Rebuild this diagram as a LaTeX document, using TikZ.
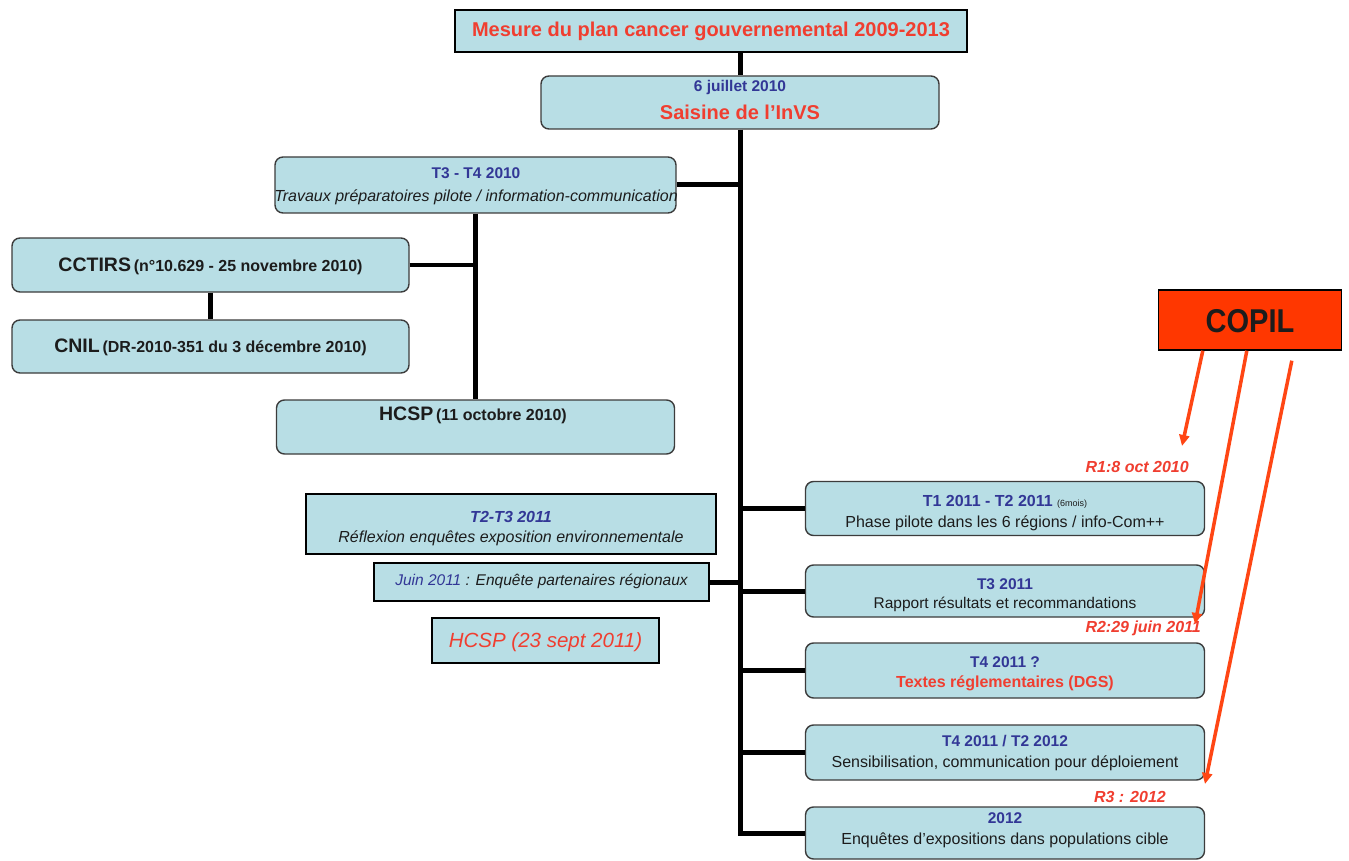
\documentclass[tikz,border=0pt]{standalone}
\usepackage{fontspec}
\setmainfont{Liberation Sans}
\newfontfamily\narrowf{Liberation Sans}[FakeStretch=0.88]
\usetikzlibrary{arrows.meta,calc}
\definecolor{boxfill}{RGB}{184,222,229}
\definecolor{boxline}{RGB}{60,60,60}
\definecolor{navyt}{RGB}{50,55,150}
\definecolor{redt}{RGB}{240,62,48}
\definecolor{darkt}{RGB}{28,28,28}
\definecolor{copilred}{RGB}{255,55,0}
\definecolor{arrred}{RGB}{255,70,20}
\newcommand\fsz[1]{\fontsize{#1}{#1}\selectfont}
\begin{document}
\begin{tikzpicture}[x=1pt,y=-1pt,
  rbox/.style={draw=boxline,line width=1.4pt,fill=boxfill,rounded corners=8pt,inner sep=0pt},
  sbox/.style={draw=black,line width=1.4pt,fill=boxfill,inner sep=0pt},
  txt/.style={inner sep=0pt,anchor=center},
  conn/.style={line width=5pt,line join=miter},
  sconn/.style={line width=4.5pt},
  copilarrow/.style={draw=arrred,line width=3.5pt,-{Triangle[length=11pt,width=10pt]}},
  rlabel/.style={text=redt,font=\bfseries\itshape\fsz{16},inner sep=0pt,anchor=east}
]
\useasboundingbox (0,0) rectangle (1349,861);
\fill[white] (0,0) rectangle (1349,861);

% boxes
\node[sbox,minimum width=512pt,minimum height=42pt] (top) at (711,31) {};
\node[rbox,minimum width=398pt,minimum height=53pt] (sai) at (740,102.5) {};
\node[rbox,minimum width=401pt,minimum height=56pt] (t34) at (475.5,185) {};
\node[rbox,minimum width=397pt,minimum height=54pt] (cct) at (210.5,265) {};
\node[rbox,minimum width=397pt,minimum height=53pt] (cnil) at (210.5,346.5) {};
\node[rbox,minimum width=398pt,minimum height=54pt] (hc1) at (475.5,427) {};
\node[sbox,minimum width=410pt,minimum height=60pt] (t23) at (511,524) {};
\node[sbox,minimum width=335pt,minimum height=38pt] (juin) at (541.5,582) {};
\node[sbox,minimum width=227pt,minimum height=45pt] (hc2) at (545.5,640.5) {};
\node[rbox,minimum width=399pt,minimum height=54pt] (r1) at (1005,508.5) {};
\node[rbox,minimum width=399pt,minimum height=52pt] (r2) at (1005,591) {};
\node[rbox,minimum width=399pt,minimum height=55pt] (r3) at (1005,670.5) {};
\node[rbox,minimum width=399pt,minimum height=55pt] (r4) at (1005,752.5) {};
\node[rbox,minimum width=399pt,minimum height=52pt] (r5) at (1005,833) {};
\node[draw=black,line width=1.4pt,fill=copilred,minimum width=183pt,minimum height=60pt,inner sep=0pt] (copil) at (1250,320) {};

% texts
\node[txt,text=redt,font=\bfseries\fsz{20}] (topt) at (711,31) {Mesure du plan cancer gouvernemental 2009-2013};
\node[txt,text=navyt,font=\bfseries\fsz{15.5}] (sai1) at (740,87) {6 juillet 2010};
\node[txt,text=redt,font=\bfseries\fsz{20}] (sai2) at (740,112) {Saisine de l’InVS};
\node[txt,text=navyt,font=\bfseries\fsz{15.5}] (t341) at (476,173) {T3 - T4 2010};
\node[txt,text=darkt,font=\itshape\fsz{16}] (t342) at (476,197) {Travaux préparatoires pilote / information-communication};
\node[txt,text=darkt,font=\bfseries] (cctt) at (210.5,266) {{\fsz{19.5}CCTIRS} {\fsz{16}(n°10.629 - 25 novembre 2010)}};
\node[txt,text=darkt,font=\bfseries] (cnilt) at (210.5,347) {{\fsz{19.5}CNIL} {\fsz{16}(DR-2010-351 du 3 décembre 2010)}};
\node[txt,text=darkt,font=\bfseries] (hc1t) at (473,415) {{\fsz{19.5}HCSP} {\fsz{16}(11 octobre 2010)}};
\node[txt,text=navyt,font=\bfseries\itshape\fsz{16}] (t231) at (511,517) {T2-T3 2011};
\node[txt,text=darkt,font=\itshape\fsz{16}] (t232) at (511,538) {Réflexion enquêtes exposition environnementale};
\node[txt,font=\itshape\fsz{15.5}] (juint) at (541.5,581) {\textcolor{navyt}{Juin 2011} \textcolor{darkt}{: Enquête partenaires régionaux}};
\node[txt,text=redt,font=\itshape\fsz{20.5}] (hc2t) at (545.5,642) {HCSP (23 sept 2011)};
\node[txt,font=\bfseries\fsz{16}] (r1a) at (1005,502) {\textcolor{navyt}{T1 2011 - T2 2011} {\mdseries\fsz{9}\textcolor{darkt}{(6mois)}}};
\node[txt,text=darkt,font=\fsz{16}] (r1b) at (1005,523) {Phase pilote dans les 6 régions / info-Com++};
\node[txt,text=navyt,font=\bfseries\fsz{15.5}] (r2a) at (1005,584) {T3 2011};
\node[txt,text=darkt,font=\fsz{15.5}] (r2b) at (1005,604) {Rapport résultats et recommandations};
\node[txt,text=navyt,font=\bfseries\fsz{15.5}] (r3a) at (1005,662) {T4 2011 ?};
\node[txt,text=redt,font=\bfseries\fsz{16}] (r3b) at (1005,683) {Textes réglementaires (DGS)};
\node[txt,text=navyt,font=\bfseries\fsz{15.5}] (r4a) at (1005,741) {T4 2011 / T2 2012};
\node[txt,text=darkt,font=\fsz{16}] (r4b) at (1005,763) {Sensibilisation, communication pour déploiement};
\node[txt,text=navyt,font=\bfseries\fsz{15.5}] (r5a) at (1005,818) {2012};
\node[txt,text=darkt,font=\fsz{16}] (r5b) at (1005,840) {Enquêtes d’expositions dans populations cible};
\node[txt,text=darkt,font=\narrowf\bfseries\fsz{33}] (copilt) at (1250,321) {COPIL};

% milestone labels
\node[rlabel] (lr1) at (1189,467) {R1:8 oct 2010};
\node[rlabel] (lr2) at (1201,628) {R2:29 juin 2011};
\node[rlabel] (lr3) at (1166,797) {R3 : 2012};

% connectors
\coordinate (tb) at (740,833);
\draw[conn] (top.south -| sai.north) -- (sai.north);
\draw[conn] (sai.south) -- (tb) -- (r5.west);
\draw[conn] (t34.east) -- (t34.east -| tb);
\draw[sconn] (t34.south) -- (t34.south |- hc1.north);
\draw[sconn] (cct.east) -- (cct.east -| t34.south);
\draw[sconn] (cct.south) -- (cnil.north);
\draw[line width=7pt] ($(t23.south east)+(0,-15)$) -- ($(t23.south east)+(0,-15)$ -| tb);
\draw[conn] (juin.east) -- (juin.east -| tb);
\draw[conn] ($(hc2.east)+(9,2)$) -- ($(hc2.east)+(9,2)$ -| tb);
\foreach \r in {r1,r2,r3,r4}{\draw[conn] (\r.west -| tb) -- (\r.west);}

% COPIL arrows
\coordinate (a1) at (1182,446);
\coordinate (a2) at (1195,624);
\coordinate (a3) at (1205,784);
\draw[copilarrow] ($(copil.south west)+(45,0)$) -- (a1);
\draw[copilarrow] ($(copil.south west)+(89,0)$) -- (a2);
\draw[copilarrow] ($(copil.south west)+(134,10)$) -- (a3);
\end{tikzpicture}
\end{document}
